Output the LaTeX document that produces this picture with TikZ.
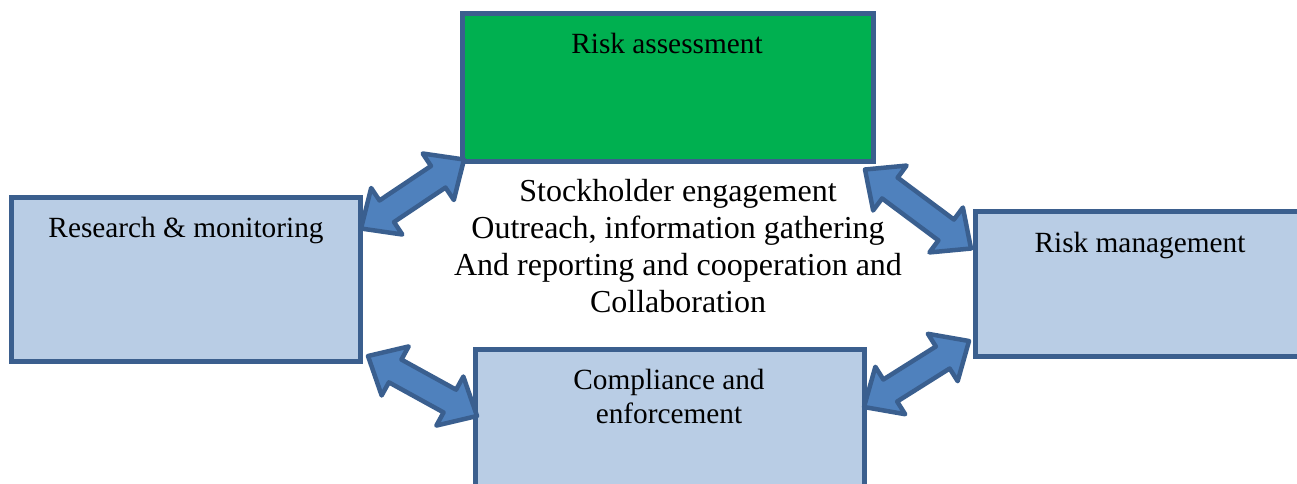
\documentclass[tikz,border=0pt]{standalone}
\usepackage{fontspec}
\setmainfont{Liberation Serif}
\usetikzlibrary{calc}
\definecolor{boxfill}{HTML}{B9CDE5}
\definecolor{boxline}{HTML}{3B5F8E}
\definecolor{greenfill}{HTML}{00B050}
\definecolor{arrfill}{HTML}{4F81BD}
\definecolor{arrline}{HTML}{3A5F8F}
\tikzset{
  box/.style={draw=boxline, line width=5pt, fill=boxfill, inner sep=0pt, rectangle},
  txt/.style={font=\fontsize{29.3}{37}\selectfont, inner sep=0pt, anchor=base},
  dblarrow/.style={draw=arrline, fill=arrfill, line width=4.5pt, line join=round,
    to path={
      -- ($(\tikztostart)!31pt!(\tikztotarget)!28pt!90:(\tikztotarget)$)
      -- ($(\tikztostart)!31pt!(\tikztotarget)!13pt!90:(\tikztotarget)$)
      -- ($(\tikztotarget)!31pt!(\tikztostart)!13pt!-90:(\tikztostart)$)
      -- ($(\tikztotarget)!31pt!(\tikztostart)!28pt!-90:(\tikztostart)$)
      -- (\tikztotarget)
      -- ($(\tikztotarget)!31pt!(\tikztostart)!28pt!90:(\tikztostart)$)
      -- ($(\tikztotarget)!31pt!(\tikztostart)!13pt!90:(\tikztostart)$)
      -- ($(\tikztostart)!31pt!(\tikztotarget)!13pt!-90:(\tikztotarget)$)
      -- ($(\tikztostart)!31pt!(\tikztotarget)!28pt!-90:(\tikztotarget)$)
      -- cycle}}
}
\begin{document}
\begin{tikzpicture}[x=1pt,y=-1pt]
\useasboundingbox (0,0) rectangle (1297,483);
\begin{scope}
\clip (0,0) rectangle (1297,483);
% boxes
\node[box, fill=greenfill, minimum width=411pt, minimum height=148pt] (ra) at (668,87.5) {};
\node[box, minimum width=349pt, minimum height=164pt] (rm) at (186,279.5) {};
\node[box, minimum width=329.5pt, minimum height=145pt] (mg) at (1140.25,284) {};
\node[box, minimum width=389pt, minimum height=200pt] (ce) at (670,449.5) {};
% arrow ends
\coordinate (a1s) at (361,228.5);
\coordinate (a1e) at (464,159.5);
\coordinate (a2s) at (865,169.5);
\coordinate (a2e) at (971,248.5);
\coordinate (a3s) at (368,356);
\coordinate (a3e) at (477,416);
\coordinate (a4s) at (864,407);
\coordinate (a4e) at (969,341);
\draw[dblarrow] (a1s) to (a1e);
\draw[dblarrow] (a2s) to (a2e);
\draw[dblarrow] (a3s) to (a3e);
\draw[dblarrow] (a4s) to (a4e);
% texts
\node[txt] (tra) at (667,53) {Risk assessment};
\node[txt] (trm) at (186,237) {Research \& monitoring};
\node[txt] (tmg) at (1140,252) {Risk management};
\node[txt, align=center, font=\fontsize{29.3}{34}\selectfont] (tce) at (669,423) {Compliance and\\enforcement};
\node[txt, align=center, font=\fontsize{32}{37}\selectfont] (tc) at (678,312.5) {Stockholder engagement\\Outreach, information gathering\\And reporting and cooperation and\\Collaboration};
\end{scope}
\end{tikzpicture}
\end{document}
